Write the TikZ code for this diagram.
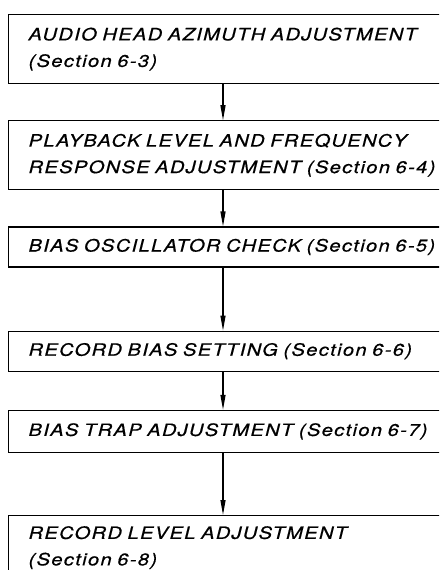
\documentclass[tikz,border=0pt]{standalone}
\usepackage{fontspec}
\newfontfamily\flowfont[FakeStretch=1.18, LetterSpace=8, FakeBold=0.6]{TeX Gyre Heros}
\DeclareRobustCommand\flowtext{\flowfont\itshape\fontsize{17}{26.5}\selectfont
  \spaceskip=0.6em\relax}
\usetikzlibrary{positioning,arrows.meta}

\begin{document}
\begin{tikzpicture}
    [
    x=1pt, y=-1pt, >={Triangle[length=15pt,width=5pt]},
    %Voreinstellung fuer Kaesten
    flowbox/.style={draw, line width=1.2pt, anchor=north west, inner xsep=20pt,
      inner ysep=0pt, text width=430pt, align=left, font=\flowtext},
    flowarrow/.style={->, line width=1.2pt}
    ]
    
    %Bildausschnitt
    \useasboundingbox (0,0) rectangle (439,570);
    \clip (0,0) rectangle (439,570);
    
    %Kaesten
    \node[flowbox, minimum height=69pt] (azimuth) at (8,14)
    {AUDIO HEAD AZIMUTH ADJUSTMENT\\(Section 6-3)};
    \node[flowbox, minimum height=69pt, below=36pt of azimuth] (playback)
    {PLAYBACK LEVEL AND FREQUENCY\\RESPONSE ADJUSTMENT (Section 6-4)};
    \node[flowbox, minimum height=40pt, below=36pt of playback] (oscillator)
    {BIAS OSCILLATOR CHECK (Section 6-5)};
    \node[flowbox, minimum height=40pt, below=63pt of oscillator] (biasset)
    {RECORD BIAS SETTING (Section 6-6)};
    \node[flowbox, minimum height=42pt, below=38pt of biasset] (trap)
    {BIAS TRAP ADJUSTMENT (Section 6-7)};
    \node[flowbox, minimum height=64pt, below=62pt of trap] (reclevel)
    {RECORD LEVEL ADJUSTMENT\\(Section 6-8)};
    
    %Pfeile
    \coordinate (ax) at (223,0);
    \foreach \a/\b in {azimuth/playback, playback/oscillator, oscillator/biasset,
      biasset/trap, trap/reclevel}
    \draw[flowarrow] (\a.south -| ax) -- (\b.north -| ax);
\end{tikzpicture}
\end{document}
